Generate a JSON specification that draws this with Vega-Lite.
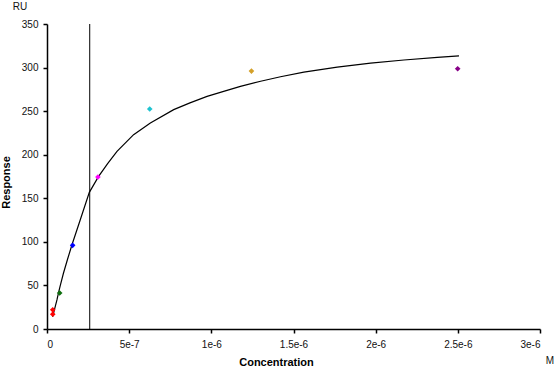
{
  "$schema": "https://vega.github.io/schema/vega-lite/v6.json",
  "width": 493,
  "height": 305,
  "padding": {"left": 47, "top": 24, "right": 14, "bottom": 40},
  "autosize": {"type": "none"},
  "background": "white",
  "config": {
    "view": {"stroke": null},
    "font": "Liberation Sans",
    "axis": {"grid": false, "domainColor": "#000000", "domainWidth": 1.5, "domainOpacity": 1, "tickColor": "#000000", "tickWidth": 1.5, "tickOpacity": 1, "labelColor": "#111111", "labelFont": "Liberation Sans", "labelFontSize": 10, "titleFont": "Liberation Sans", "titleFontSize": 11, "titleFontWeight": "bold", "titleColor": "black"}
  },
  "datasets": {
    "points": [
      {"conc": 3.5e-8, "resp": 22, "grp": "a"},
      {"conc": 3.5e-8, "resp": 17, "grp": "a"},
      {"conc": 7.7e-8, "resp": 41.3, "grp": "b"},
      {"conc": 1.56e-7, "resp": 96, "grp": "c"},
      {"conc": 3.1e-7, "resp": 174.4, "grp": "d"},
      {"conc": 6.25e-7, "resp": 252.5, "grp": "e"},
      {"conc": 1.244e-6, "resp": 296, "grp": "f"},
      {"conc": 2.499e-6, "resp": 298.7, "grp": "g"}
    ],
    "curve": [
      {"conc": 3.41e-8, "resp": 13.8},
      {"conc": 4.5e-8, "resp": 22},
      {"conc": 6.09e-8, "resp": 33.6},
      {"conc": 7.06e-8, "resp": 42},
      {"conc": 8.1e-8, "resp": 50},
      {"conc": 1.0e-7, "resp": 64},
      {"conc": 1.25e-7, "resp": 80},
      {"conc": 1.52e-7, "resp": 96.7},
      {"conc": 2.0e-7, "resp": 124},
      {"conc": 2.576e-7, "resp": 156.8},
      {"conc": 3.14e-7, "resp": 175.1},
      {"conc": 3.7e-7, "resp": 190},
      {"conc": 4.26e-7, "resp": 203.8},
      {"conc": 5.27e-7, "resp": 223},
      {"conc": 6.29e-7, "resp": 236.4},
      {"conc": 7.71e-7, "resp": 251.7},
      {"conc": 8.7e-7, "resp": 259.5},
      {"conc": 9.74e-7, "resp": 266.9},
      {"conc": 1.08e-6, "resp": 273},
      {"conc": 1.177e-6, "resp": 278.4},
      {"conc": 1.3e-6, "resp": 284.3},
      {"conc": 1.421e-6, "resp": 289.5},
      {"conc": 1.563e-6, "resp": 294.8},
      {"conc": 1.766e-6, "resp": 300.6},
      {"conc": 1.969e-6, "resp": 305},
      {"conc": 2.172e-6, "resp": 308.7},
      {"conc": 2.375e-6, "resp": 311.7},
      {"conc": 2.507e-6, "resp": 313.4}
    ],
    "kd": [{"conc": 2.6e-7}],
    "ulabel": [{"conc": 0, "resp": 350, "t": "RU"}],
    "mlabel": [{"conc": 3e-6, "resp": 0, "t": "M"}]
  },
  "layer": [
    {
      "data": {"name": "curve"},
      "mark": {"type": "line", "color": "black", "strokeWidth": 1.2},
      "encoding": {
        "x": {"field": "conc", "type": "quantitative", "scale": {"domain": [0, 3e-6], "nice": false}, "axis": {"values": [0, 5e-7, 1e-6, 1.5e-6, 2e-6, 2.5e-6, 3e-6], "labelExpr": "datum.value == 0 ? '0' : format(datum.value, '.2~e')", "domain": true, "ticks": true, "tickSize": 4, "labelPadding": 6, "title": "Concentration", "titleX": 229, "titleY": 33, "titleAlign": "center", "titleBaseline": "middle"}},
        "y": {"field": "resp", "type": "quantitative", "scale": {"domain": [0, 350], "nice": false}, "axis": {"values": [0, 50, 100, 150, 200, 250, 300, 350], "domain": true, "ticks": true, "tickSize": 4, "labelPadding": 5, "title": "Response", "titleX": -41, "titleY": 158, "titleAngle": -90, "titleAlign": "center", "titleBaseline": "middle"}}
      }
    },
    {
      "mark": {"type": "rule", "color": "black", "strokeWidth": 1.5},
      "encoding": {"x": {"datum": 3e-9}}
    },
    {
      "mark": {"type": "rule", "color": "black", "strokeWidth": 1.5},
      "encoding": {"y": {"datum": 0.6}}
    },
    {
      "data": {"name": "kd"},
      "mark": {"type": "rule", "color": "black", "strokeWidth": 1},
      "encoding": {
        "x": {"field": "conc", "type": "quantitative"}
      }
    },
    {
      "data": {"name": "points"},
      "mark": {"type": "point", "shape": "diamond", "filled": true, "size": 32, "opacity": 1},
      "encoding": {
        "x": {"field": "conc", "type": "quantitative"},
        "y": {"field": "resp", "type": "quantitative"},
        "color": {"field": "grp", "type": "nominal", "legend": null, "scale": {"domain": ["a", "b", "c", "d", "e", "f", "g"], "range": ["#ff0000", "#0d6e0d", "#0000ff", "#ff00ff", "#1ec3d0", "#d4a028", "#880088"]}}
      }
    },
    {
      "data": {"name": "ulabel"},
      "mark": {"type": "text", "fontSize": 10, "color": "#111111", "align": "center", "baseline": "middle", "dx": -27, "dy": -17},
      "encoding": {
        "x": {"field": "conc", "type": "quantitative"},
        "y": {"field": "resp", "type": "quantitative"},
        "text": {"field": "t"}
      }
    },
    {
      "data": {"name": "mlabel"},
      "mark": {"type": "text", "fontSize": 10, "color": "#111111", "align": "center", "baseline": "middle", "dx": 10, "dy": 32},
      "encoding": {
        "x": {"field": "conc", "type": "quantitative"},
        "y": {"field": "resp", "type": "quantitative"},
        "text": {"field": "t"}
      }
    }
  ]
}
